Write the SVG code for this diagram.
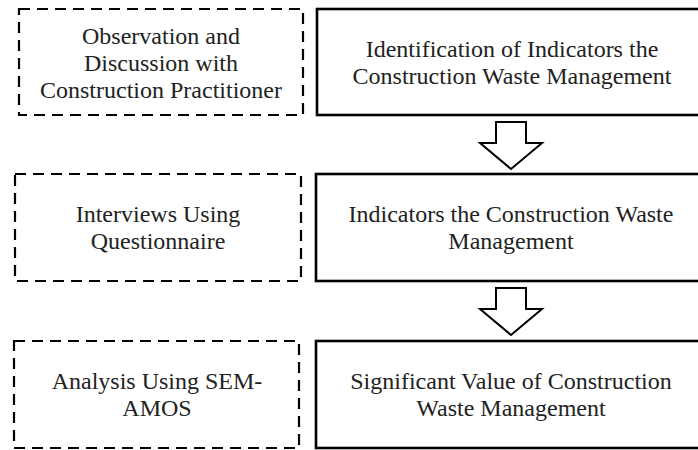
<svg xmlns="http://www.w3.org/2000/svg" width="698" height="450" viewBox="0 0 698 450">
<style>
.bg{fill:#ffffff}
.dash{fill:none;stroke:#000;stroke-width:2.2;stroke-dasharray:11 7}
.solid{fill:none;stroke:#000;stroke-width:2.6}
.arrow{fill:#fff;stroke:#000;stroke-width:2;stroke-linejoin:miter}
text{font-family:"Liberation Serif","Times New Roman",serif;font-size:24px;fill:#222;text-anchor:middle}
</style>
<rect class="bg" x="0" y="0" width="698" height="450"/>
<g id="n-observation">
<rect class="dash" x="19" y="9" width="284" height="106"/>
<text x="161" y="44">Observation and</text>
<text x="161" y="71">Discussion with</text>
<text x="161" y="98">Construction Practitioner</text>
</g>
<g id="n-identification">
<rect class="solid" x="317" y="9" width="395" height="106"/>
<text x="512" y="57">Identification of Indicators the</text>
<text x="512" y="84">Construction Waste Management</text>
</g>
<g id="n-interviews">
<rect class="dash" x="15" y="174" width="286" height="107"/>
<text x="158" y="222">Interviews Using</text>
<text x="158" y="249">Questionnaire</text>
</g>
<g id="n-indicators">
<rect class="solid" x="316" y="174" width="396" height="107"/>
<text x="511" y="222">Indicators the Construction Waste</text>
<text x="511" y="249">Management</text>
</g>
<g id="n-analysis">
<rect class="dash" x="14" y="341" width="285" height="107"/>
<text x="157" y="389">Analysis Using SEM-</text>
<text x="157" y="416">AMOS</text>
</g>
<g id="n-significant">
<rect class="solid" x="316" y="341" width="396" height="107"/>
<text x="511" y="389">Significant Value of Construction</text>
<text x="511" y="416">Waste Management</text>
</g>
<g id="connectors">
<polygon class="arrow" points="496,122 526,122 526,143 542,143 511,169 480,143 496,143"/>
<polygon class="arrow" points="496,288 526,288 526,309 542,309 511,335 480,309 496,309"/>
</g>
</svg>
